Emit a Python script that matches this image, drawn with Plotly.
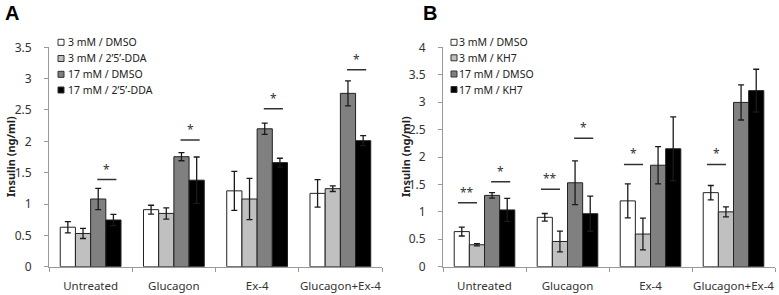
import plotly.graph_objects as go

categories = ["Untreated", "Glucagon", "Ex-4", "Glucagon+Ex-4"]

# Panel A
a_names = ["3 mM / DMSO", "3 mM / 2\u20195\u2019-DDA", "17 mM / DMSO", "17 mM / 2\u20195\u2019-DDA"]
a_3_dmso = [0.63, 0.91, 1.21, 1.17]
a_3_dmso_err = [0.09, 0.07, 0.31, 0.22]
a_3_dda = [0.53, 0.85, 1.08, 1.245]
a_3_dda_err = [0.08, 0.09, 0.33, 0.045]
a_17_dmso = [1.08, 1.755, 2.20, 2.765]
a_17_dmso_err = [0.17, 0.065, 0.09, 0.20]
a_17_dda = [0.745, 1.38, 1.66, 2.01]
a_17_dda_err = [0.09, 0.37, 0.07, 0.08]

# Panel B
b_names = ["3 mM / DMSO", "3 mM / KH7", "17 mM / DMSO", "17 mM / KH7"]
b_3_dmso = [0.64, 0.90, 1.20, 1.35]
b_3_dmso_err = [0.08, 0.07, 0.31, 0.13]
b_3_kh7 = [0.40, 0.46, 0.595, 1.0]
b_3_kh7_err = [0.02, 0.19, 0.29, 0.09]
b_17_dmso = [1.30, 1.53, 1.85, 2.995]
b_17_dmso_err = [0.05, 0.40, 0.34, 0.32]
b_17_kh7 = [1.035, 0.966, 2.15, 3.21]
b_17_kh7_err = [0.21, 0.32, 0.58, 0.39]

# significance marks: (category index, side, y value, label)
a_sig = [(0, "right", 1.39, "*"), (1, "right", 2.02, "*"), (2, "right", 2.52, "*"), (3, "right", 3.14, "*")]
b_sig = [(0, "left", 1.167, "**"), (0, "right", 1.55, "*"), (1, "left", 1.41, "**"),
         (1, "right", 2.34, "*"), (2, "left", 1.865, "*"), (3, "left", 1.865, "*")]

y_title = "Insulin (ng/ml)"
fills = ["#FFFFFF", "#C0C0C0", "#808080", "#000000"]
FONT = "Noto Sans"
W, H = 779, 295

fig = go.Figure()

def add_panel(vals, errs, names, xa, ya):
    for v, e, n, c in zip(vals, errs, names, fills):
        fig.add_trace(go.Bar(
            x=categories, y=v, name=n, xaxis=xa, yaxis=ya, showlegend=False,
            marker=dict(color=c, line=dict(color="#222222", width=1)),
            error_y=dict(type="data", array=e, visible=True, color="#1a1a1a", thickness=1.3, width=3),
        ))

add_panel([a_3_dmso, a_3_dda, a_17_dmso, a_17_dda],
          [a_3_dmso_err, a_3_dda_err, a_17_dmso_err, a_17_dda_err], a_names, "x", "y")
add_panel([b_3_dmso, b_3_kh7, b_17_dmso, b_17_kh7],
          [b_3_dmso_err, b_3_kh7_err, b_17_dmso_err, b_17_kh7_err], b_names, "x2", "y2")

shapes = []
annotations = []
for sig, xr, yr in [(a_sig, "x", "y"), (b_sig, "x2", "y2")]:
    for ci, side, yv, lab in sig:
        if side == "right":
            x0, x1 = ci + 0.08, ci + 0.31
        else:
            x0, x1 = ci - 0.32, ci - 0.09
        shapes.append(dict(type="line", xref=xr, yref=yr, x0=x0, x1=x1, y0=yv, y1=yv,
                           line=dict(color="#333333", width=1.5)))
        annotations.append(dict(xref=xr, yref=yr, x=(x0 + x1) / 2, y=yv, text=lab, showarrow=False,
                                yanchor="bottom", yshift=0, font=dict(family=FONT, size=12, color="#333333")))

# legends (drawn as small boxes + labels in pixel positions)
def add_legend(names, sq_x, txt_x, rows):
    for n, c, ry in zip(names, fills, rows):
        shapes.append(dict(type="rect", xref="paper", yref="paper",
                           x0=sq_x / W, x1=(sq_x + 6) / W, y0=1 - (ry - 3) / H, y1=1 - (ry + 3) / H,
                           fillcolor=c, line=dict(color="#333333", width=1)))
        annotations.append(dict(xref="paper", yref="paper", x=txt_x / W, y=1 - ry / H, text=n,
                                showarrow=False, xanchor="left", yanchor="middle",
                                font=dict(family=FONT, size=10.5, color="#222222")))

add_legend(a_names, 58, 66, [42.3, 58.5, 74.3, 90])
add_legend(b_names, 451, 457, [42.3, 57.8, 74, 89.5])

annotations += [
    dict(xref="paper", yref="paper", x=3 / W, y=1 - 13 / H, text="<b>A</b>", showarrow=False,
         xanchor="left", yanchor="middle", font=dict(family="Liberation Sans", size=20, color="#000")),
    dict(xref="paper", yref="paper", x=421 / W, y=1 - 13 / H, text="<b>B</b>", showarrow=False,
         xanchor="left", yanchor="middle", font=dict(family="Liberation Sans", size=20, color="#000")),
    dict(xref="paper", yref="paper", x=10 / W, y=1 - 157 / H, text="<b>" + y_title + "</b>", showarrow=False,
         textangle=-90, xanchor="center", yanchor="middle", font=dict(family=FONT, size=11, color="#222")),
    dict(xref="paper", yref="paper", x=405 / W, y=1 - 157 / H, text="<b>" + y_title + "</b>", showarrow=False,
         textangle=-90, xanchor="center", yanchor="middle", font=dict(family=FONT, size=11, color="#222")),
]

ybot = (H - 266.7) / H
ytop = (H - 47.3) / H
xaxis_common = dict(showline=True, linecolor="#999999", linewidth=1, ticks="outside", tickson="boundaries",
                    ticklen=4, tickcolor="#999999", showgrid=False, zeroline=False, tickangle=0,
                    ticklabelstandoff=8,
                    tickfont=dict(family=FONT, size=11.5, color="#333"), automargin=False)
yaxis_common = dict(showline=True, linecolor="#999999", linewidth=1, ticks="outside", ticklen=4,
                    tickcolor="#999999", showgrid=False, zeroline=False, dtick=0.5,
                    ticklabelstandoff=10,
                    tickfont=dict(family=FONT, size=12, color="#333"), automargin=False,
                    domain=[ybot, ytop])

fig.update_layout(
    width=W, height=H, margin=dict(l=0, r=0, t=0, b=0),
    paper_bgcolor="white", plot_bgcolor="white", showlegend=False,
    barmode="group", bargap=0.27, bargroupgap=0,
    xaxis=dict(domain=[49 / W, 382 / W], anchor="y", **xaxis_common),
    yaxis=dict(range=[0, 3.5], anchor="x", **yaxis_common),
    xaxis2=dict(domain=[443 / W, 775 / W], anchor="y2", **xaxis_common),
    yaxis2=dict(range=[0, 4], anchor="x2", **yaxis_common),
    shapes=shapes, annotations=annotations,
    font=dict(family=FONT),
)

fig.write_html("out.html", config={"displayModeBar": False},
               post_script="document.body.style.margin='0';document.body.style.overflow='hidden';")
